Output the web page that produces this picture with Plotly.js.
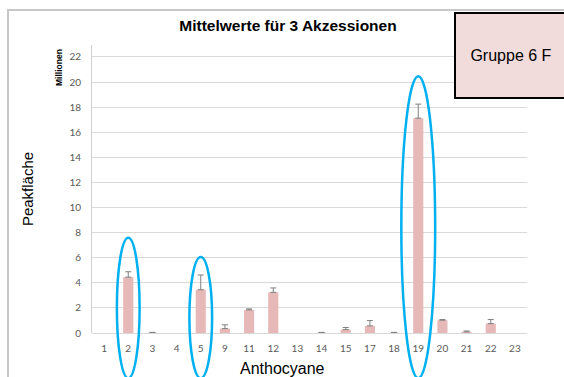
<!DOCTYPE html>
<html>
<head>
<meta charset="utf-8">
<script src="https://cdn.plot.ly/plotly-3.0.1.min.js"></script>
<style>
  html, body { margin: 0; padding: 0; background: #fff; }
  #wrap { position: relative; width: 564px; height: 377px; overflow: hidden; }
  #chart { width: 564px; height: 377px; }
  #frame { position: absolute; left: 7px; top: 9px; width: 600px; height: 400px;
           border-left: 2px solid #c8c8c8; border-top: 2px solid #c8c8c8; pointer-events: none; }
</style>
</head>
<body>
<div id="wrap">
  <div id="chart"></div>
  <div id="frame"></div>
</div>
<script>
// ---- data ----
var categories = ['1','2','3','4','5','9','11','12','13','14','15','17','18','19','20','21','22','23'];
var meanValues = [null, 4.45, 0.02, null, 3.45, 0.35, 1.84, 3.24, null, 0.02, 0.27, 0.57, 0.02, 17.12, 1.02, 0.09, 0.75, null];
var errorPlus  = [null, 0.43, 0.03, null, 1.17, 0.30, 0.08, 0.35, null, 0.03, 0.17, 0.42, 0.03, 1.12, 0.05, 0.07, 0.32, null];
var yTicks = [0, 2, 4, 6, 8, 10, 12, 14, 16, 18, 20, 22];
var highlighted = ['2', '5', '19'];
var highlightTop = [7.6, 6.05, 20.45];   // top of each ellipse (Millionen)
var highlightHalfWidth = [0.47, 0.47, 0.7];
var highlightBottom = -3.6;

var yMax = 22.95;
var toPaper = function (v) { return v / yMax; };

var trace = {
  type: 'bar',
  x: categories,
  y: meanValues,
  marker: { color: '#e6b9b8' },
  error_y: {
    type: 'data', symmetric: false,
    array: errorPlus,
    arrayminus: errorPlus.map(function () { return 0; }),
    color: '#7f7f7f', thickness: 1, width: 3
  },
  hoverinfo: 'x+y'
};

var shapes = highlighted.map(function (c, i) {
  var idx = categories.indexOf(c);
  return {
    type: 'circle', xref: 'x', yref: 'paper',
    x0: idx - highlightHalfWidth[i], x1: idx + highlightHalfWidth[i],
    y0: toPaper(highlightBottom), y1: toPaper(highlightTop[i]),
    line: { color: '#00b0f0', width: 2.5 }, fillcolor: 'rgba(0,0,0,0)', layer: 'above'
  };
});

var layout = {
  width: 564, height: 377,
  margin: { l: 92, r: 37, t: 45, b: 44 },
  paper_bgcolor: '#ffffff', plot_bgcolor: '#ffffff',
  showlegend: false,
  bargap: 0.58,
  font: { family: 'Liberation Sans, Arial, sans-serif', color: '#000' },
  title: {
    text: '<b>Mittelwerte für 3 Akzessionen</b>',
    font: { family: 'Liberation Sans, Arial, sans-serif', size: 15.5, color: '#000' },
    xref: 'container', yref: 'container',
    x: 288 / 564, xanchor: 'center', y: 1 - 26 / 377, yanchor: 'middle'
  },
  xaxis: {
    type: 'category', categoryorder: 'array', categoryarray: categories,
    showgrid: false, zeroline: false, showline: false,
    ticks: '', ticklabelstandoff: 8,
    tickfont: { family: 'Lato, sans-serif', size: 10, color: '#595959' },
    fixedrange: true
  },
  yaxis: {
    range: [0, yMax], tickvals: yTicks, ticktext: yTicks.map(String),
    showgrid: true, gridcolor: '#d9d9d9', gridwidth: 1,
    zeroline: true, zerolinecolor: '#d9d9d9', zerolinewidth: 1,
    showline: true, linecolor: '#d0d0d0', linewidth: 1,
    ticks: '', ticklabelstandoff: 8,
    tickfont: { family: 'Lato, sans-serif', size: 10, color: '#595959' },
    title: { text: 'Peakfläche', font: { family: 'Liberation Sans, Arial, sans-serif', size: 15, color: '#000' }, standoff: 32 },
    fixedrange: true
  },
  shapes: shapes,
  annotations: [
    {
      text: 'Anthocyane', xref: 'paper', yref: 'paper',
      x: (282 - 92) / 435, y: -35 / 288, xanchor: 'center', yanchor: 'middle',
      showarrow: false, font: { family: 'Liberation Sans, Arial, sans-serif', size: 16, color: '#000' }
    },
    {
      text: '<b>Millionen</b>', xref: 'paper', yref: 'paper', textangle: -90,
      x: (59 - 92) / 435, y: (333 - 68) / 288, xanchor: 'center', yanchor: 'middle',
      showarrow: false, font: { family: 'Liberation Sans, Arial, sans-serif', size: 8.5, color: '#000' }
    },
    {
      text: 'Gruppe 6 F', xref: 'paper', yref: 'paper',
      x: (454 - 92) / 435, y: (333 - 12) / 288, xanchor: 'left', yanchor: 'top',
      showarrow: false, width: 110, height: 83, align: 'center', valign: 'middle',
      bgcolor: '#f2dcdb', bordercolor: '#000000', borderwidth: 2, borderpad: 0,
      font: { family: 'Liberation Sans, Arial, sans-serif', size: 16, color: '#000' }
    }
  ]
};

Plotly.newPlot('chart', [trace], layout, { displayModeBar: false, staticPlot: true });
</script>
</body>
</html>
